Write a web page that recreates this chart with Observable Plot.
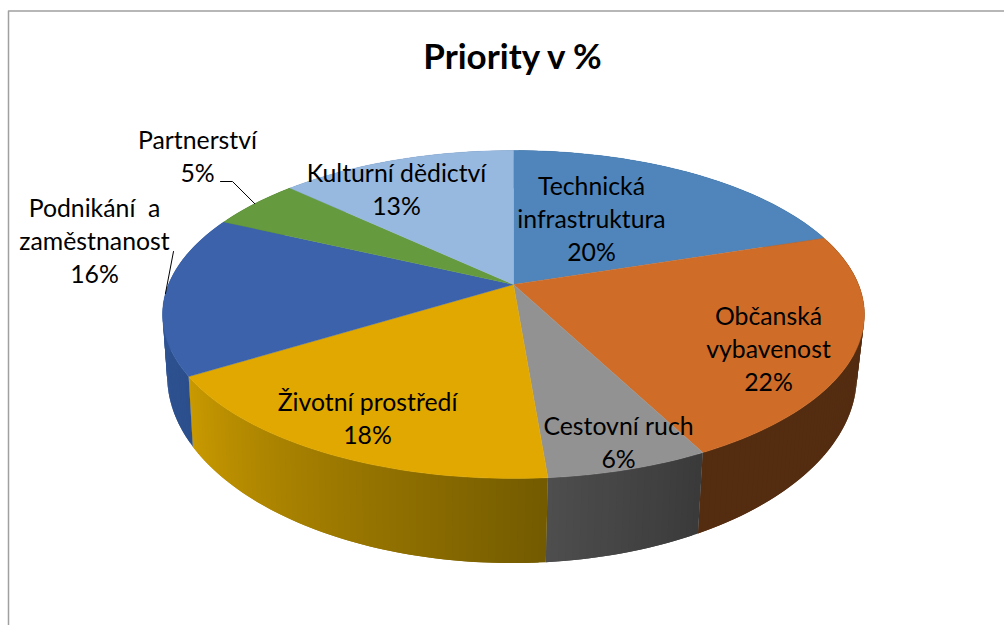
<!DOCTYPE html>
<html>
<head>
<meta charset="utf-8">
<script src="https://cdn.jsdelivr.net/npm/d3@7"></script>
<script src="https://cdn.jsdelivr.net/npm/@observablehq/plot@0.6"></script>
<style>
html,body{margin:0;padding:0;background:#fff}
svg text{white-space:pre}
</style>
</head>
<body>
<div id="chart"></div>
<script>
// Data (shares drive the slice angles; percent labels are as printed)
const categories = ["Technická\ninfrastruktura","Občanská\nvybavenost","Cestovní ruch","Životní prostředí","Podnikání  a\nzaměstnanost","Partnerství","Kulturní dědictví"];
const shares = [20, 22.4, 6.3, 17.5, 15.8, 5, 13];
const printed = ["20%","22%","6%","18%","16%","5%","13%"];
const title = "Priority v %";

// Styles
const topColors = ["#4f85bb","#cf6d28","#929292","#e0a800","#3b62aa","#659b3e","#97b9e0"];
const wallFrom  = ["#2f5f8c","#542c10","#4e4e4e","#c99a00","#33589c","#4b742e","#6f8bab"];
const wallTo    = ["#2f5f8c","#542c10","#3a3a3a","#735a00","#2c4f8c","#4b742e","#6f8bab"];

// Label placement (page pixels: centre x, centre y of the text block)
const labelX = [591, 768, 618, 367, 94, 197, 396];
const labelY = [217, 347, 440, 416, 239, 154, 187];

// Perspective disc: d3.pie supplies the angles; these map them to the page
const k = 0.183;
const topDisc = {cx: 513, cy: 284, a: 158.5, b: 345};
const lowDisc = {cx: 511.5, cy: 341, a: 181, b: 339};
const project = (d, t) => {
  const X = Math.sin(t), Y = Math.cos(t), s = 1 / (1 + k * Y);
  return [d.cx + d.b * X * s, d.cy - d.a * Y * s];
};

const arcs = d3.pie().sort(null).value(d => d)(shares);
const step = Math.PI / 180;
const anglesOf = (a) => d3.range(a.startAngle, a.endAngle, step).concat(a.endAngle);

const walls = [];
arcs.forEach((a, i) => {
  const ts = anglesOf(a);
  const mix = d3.interpolateRgb(wallFrom[i], wallTo[i]);
  // shade along the reversed sweep; each strip is drawn over the next one's edge to avoid seams
  ts.slice(1).forEach((t, j) => {
    const t0 = ts[j], id = `${i}-${j}`;
    const t1 = Math.min(t + step, a.endAngle);
    const color = mix(1 - (j + 0.5) / (ts.length - 1));
    [[topDisc, t0], [topDisc, t1], [lowDisc, t1], [lowDisc, t0], [topDisc, t0]].forEach(([d, u]) => {
      const [x, y] = project(d, u);
      walls.push({id, x, y, color});
    });
  });
});

const tops = [];
arcs.forEach((a, i) => {
  tops.push({id: i, x: topDisc.cx, y: topDisc.cy, color: topColors[i]});
  anglesOf(a).forEach(t => {
    const [x, y] = project(topDisc, t);
    tops.push({id: i, x, y, color: topColors[i]});
  });
  tops.push({id: i, x: topDisc.cx, y: topDisc.cy, color: topColors[i]});
});

const rim = (i) => project(topDisc, (arcs[i].startAngle + arcs[i].endAngle) / 2);
const leaders = [
  {id: "Partnerství", pts: [[220, 181], [232, 181], rim(5)]},
  {id: "Podnikání", pts: [[173, 251], rim(4)]}
].flatMap(l => l.pts.map(([x, y]) => ({id: l.id, x, y})));

const labels = categories.map((c, i) => ({text: `${c}\n${printed[i]}`, x: labelX[i], y: labelY[i]}));

const chart = Plot.plot({
  width: 1004,
  height: 625,
  margin: 0,
  style: {background: "#fff"},
  x: {domain: [0, 1004], range: [0, 1004], axis: null},
  y: {domain: [0, 625], range: [0, 625], axis: null},
  marks: [
    Plot.line([{x: 8, y: 625}, {x: 8, y: 10.5}, {x: 1004, y: 10.5}], {x: "x", y: "y", stroke: "#a0a0a0", strokeWidth: 1.5}),
    Plot.line(walls, {x: "x", y: "y", z: "id", fill: "color", stroke: "none"}),
    Plot.line(tops, {x: "x", y: "y", z: "id", fill: "color", stroke: "color", strokeWidth: 0.4}),
    Plot.line(leaders, {x: "x", y: "y", z: "id", stroke: "#000", strokeWidth: 1}),
    Plot.text(labels, {x: "x", y: "y", text: "text", fontSize: 24.8, lineHeight: 1.33, fill: "#000", fontFamily: "Lato", textAnchor: "middle", lineAnchor: "middle"}),
    Plot.text([title], {x: () => 512, y: () => 57, text: d => d, fontSize: 35, fontWeight: "bold", fill: "#000", fontFamily: "Lato", textAnchor: "middle", lineAnchor: "middle"})
  ]
});
document.getElementById("chart").appendChild(chart);
</script>
</body>
</html>
